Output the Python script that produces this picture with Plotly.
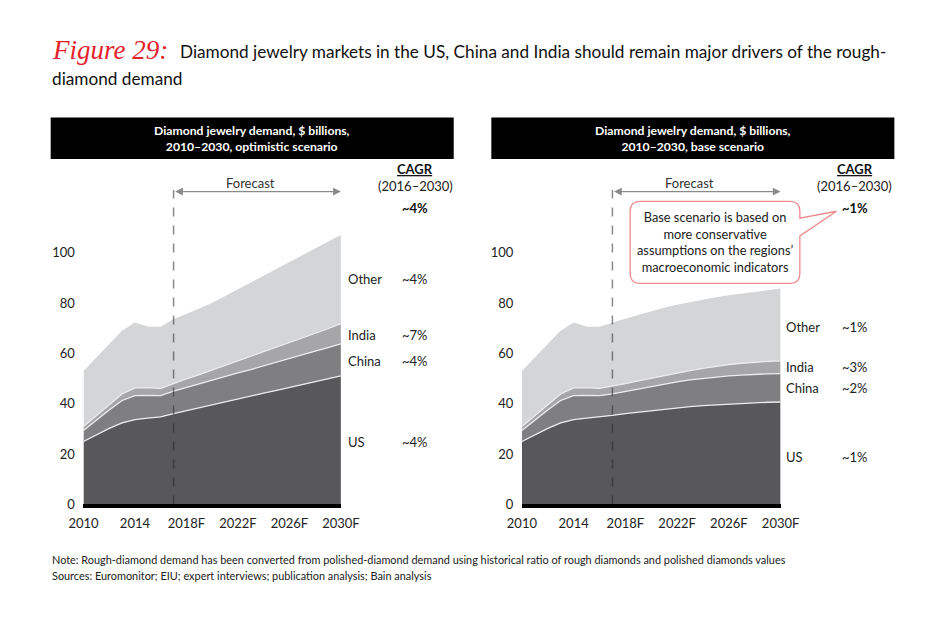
import plotly.graph_objects as go

# ---------------- data ----------------
years = list(range(2010, 2031))
tick_vals = [2010, 2014, 2018, 2022, 2026, 2030]
tick_text = ["2010", "2014", "2018F", "2022F", "2026F", "2030F"]
forecast_start = 2017

# history 2010-2016 (shared by both scenarios), $ billions
hist_us = [25.0, 27.6, 30.2, 32.4, 33.7, 34.3, 34.8]
hist_china = [4.4, 5.9, 7.3, 8.9, 9.5, 9.0, 8.4]
hist_india = [1.6, 1.8, 2.1, 2.6, 3.1, 3.1, 2.9]
hist_other = [21.6, 22.7, 23.9, 24.8, 25.7, 24.0, 24.2]

# optimistic scenario forecast 2017-2030
opt_us = [36.1, 37.3, 38.4, 39.6, 40.7, 41.9, 43.0, 44.2, 45.3, 46.5, 47.6, 48.8, 49.9, 51.1]
opt_china = [8.9, 9.2, 9.5, 9.8, 10.1, 10.4, 10.6, 10.9, 11.2, 11.5, 11.8, 12.1, 12.4, 12.7]
opt_india = [3.1, 3.4, 3.7, 4.0, 4.4, 4.7, 5.1, 5.5, 5.9, 6.3, 6.7, 7.1, 7.5, 8.0]
opt_other = [25.2, 25.5, 25.9, 26.4, 27.3, 28.2, 29.3, 30.2, 31.1, 31.9, 32.7, 33.4, 34.3, 35.0]

# base scenario forecast 2017-2030
base_us = [35.4, 36.1, 36.7, 37.3, 37.9, 38.4, 38.9, 39.3, 39.6, 39.9, 40.2, 40.4, 40.6, 40.7]
base_china = [8.5, 8.8, 9.2, 9.6, 9.9, 10.3, 10.6, 10.8, 11.1, 11.2, 11.2, 11.3, 11.3, 11.3]
base_india = [3.0, 3.1, 3.2, 3.3, 3.5, 3.6, 3.7, 4.0, 4.3, 4.5, 4.7, 4.8, 4.9, 5.0]
base_other = [25.1, 25.5, 25.9, 26.3, 26.6, 26.8, 27.0, 27.1, 27.1, 27.3, 27.5, 27.8, 28.1, 28.5]

regions = ["US", "China", "India", "Other"]
opt_cagr = ["~4%", "~4%", "~7%", "~4%"]
base_cagr = ["~1%", "~2%", "~3%", "~1%"]
opt_total_cagr = "~4%"
base_total_cagr = "~1%"

# ---------------- styling ----------------
FONT = "Lato"
W, H = 950, 625
fills = {"US": "#58585a", "China": "#7f7f81", "India": "#a6a6a8", "Other": "#d4d5d7"}
edge = "#ececec"


def px(x):
    return x / W


def py(y):
    return 1 - y / H


fig = go.Figure()

scen = [
    ("x", "y", [hist_us + opt_us, hist_china + opt_china, hist_india + opt_india, hist_other + opt_other]),
    ("x2", "y2", [hist_us + base_us, hist_china + base_china, hist_india + base_india, hist_other + base_other]),
]
for xa, ya, series in scen:
    for name, vals in zip(regions, series):
        fig.add_trace(go.Scatter(
            x=years, y=vals, xaxis=xa, yaxis=ya, name=name,
            stackgroup=xa, mode="lines",
            line=dict(color=edge if name != "Other" else fills[name], width=1.3),
            fillcolor=fills[name], hoverinfo="skip", showlegend=False,
        ))

y0_px = 511.0
scale = 2.55
ytop = 125
top_px = y0_px - ytop * scale

axis_common = dict(
    range=[2010, 2030], tickvals=tick_vals, ticktext=tick_text,
    showgrid=False, zeroline=False, showline=True, linecolor="black", linewidth=4,
    ticks="outside", ticklen=4, tickcolor="rgba(0,0,0,0)",
    tickfont=dict(family=FONT, size=13, color="#222"), fixedrange=True,
)
yaxis_common = dict(
    range=[0, ytop], tickvals=[0, 20, 40, 60, 80, 100],
    showgrid=False, zeroline=False, showline=False,
    ticks="outside", ticklen=5, tickcolor="rgba(0,0,0,0)",
    tickfont=dict(family=FONT, size=13, color="#222"), fixedrange=True,
)
ydom = [py(y0_px), py(top_px)]
fig.update_layout(
    width=W, height=H, margin=dict(l=0, r=0, t=0, b=0),
    paper_bgcolor="white", plot_bgcolor="white", showlegend=False,
    xaxis=dict(domain=[px(71), px(338)], anchor="y", **axis_common),
    yaxis=dict(domain=ydom, anchor="x", **yaxis_common),
    xaxis2=dict(domain=[px(525.7), px(794)], anchor="y2", **axis_common),
    yaxis2=dict(domain=ydom, anchor="x2", **yaxis_common),
)

shapes = []
annotations = []

# title
annotations.append(dict(
    xref="paper", yref="paper", x=px(36), y=py(51), xanchor="left", yanchor="middle",
    text="<i>Figure 29:</i>", showarrow=False,
    font=dict(family="Liberation Serif", size=27, color="#e4232d")))
annotations.append(dict(
    xref="paper", yref="paper", x=px(169), y=py(52), xanchor="left", yanchor="middle",
    text="Diamond jewelry markets in the US, China and India should remain major drivers of the rough-",
    showarrow=False, font=dict(family=FONT, size=17.2, color="#111")))
annotations.append(dict(
    xref="paper", yref="paper", x=px(36), y=py(80), xanchor="left", yanchor="middle",
    text="diamond demand", showarrow=False, font=dict(family=FONT, size=17.2, color="#111")))

panels = [
    dict(xa="x", ya="y", box=(37, 455), head="Diamond jewelry demand, $ billions,<br>2010\u20132030, optimistic scenario",
         lab_x=343, cagr_x=415, total=opt_total_cagr, cagrs=opt_cagr,
         lab_y={"Other": 283, "India": 339, "China": 366, "US": 448}, fc_x=244),
    dict(xa="x2", ya="y2", box=(494, 912), head="Diamond jewelry demand, $ billions,<br>2010\u20132030, base scenario",
         lab_x=798, cagr_x=871, total=base_total_cagr, cagrs=base_cagr,
         lab_y={"Other": 331, "India": 372, "China": 393, "US": 463}, fc_x=700),
]

for p in panels:
    # header box
    shapes.append(dict(type="rect", xref="paper", yref="paper",
                       x0=px(p["box"][0]), x1=px(p["box"][1]), y0=py(161), y1=py(119),
                       fillcolor="black", line=dict(width=0), layer="above"))
    annotations.append(dict(xref="paper", yref="paper", x=px((p["box"][0] + p["box"][1]) / 2), y=py(140),
                            xanchor="center", yanchor="middle", text="<b>" + p["head"] + "</b>",
                            showarrow=False, font=dict(family=FONT, size=12.2, color="white")))
    # CAGR header
    annotations.append(dict(xref="paper", yref="paper", x=px(p["cagr_x"]), y=py(171), xanchor="center",
                            yanchor="middle", text="<b>CAGR</b>", showarrow=False,
                            font=dict(family=FONT, size=13, color="#111", lineposition="under")))
    annotations.append(dict(xref="paper", yref="paper", x=px(p["cagr_x"]), y=py(188), xanchor="center",
                            yanchor="middle", text="(2016\u20132030)", showarrow=False,
                            font=dict(family=FONT, size=13, color="#222")))
    annotations.append(dict(xref="paper", yref="paper", x=px(p["cagr_x"]), y=py(211), xanchor="center",
                            yanchor="middle", text="<b>" + p["total"] + "</b>", showarrow=False,
                            font=dict(family=FONT, size=13, color="#111")))
    # region labels
    for name, c in zip(regions, p["cagrs"]):
        yy = p["lab_y"][name]
        annotations.append(dict(xref="paper", yref="paper", x=px(p["lab_x"]), y=py(yy), xanchor="left",
                                yanchor="middle", text=name, showarrow=False,
                                font=dict(family=FONT, size=13, color="#222")))
        annotations.append(dict(xref="paper", yref="paper", x=px(p["cagr_x"]), y=py(yy), xanchor="center",
                                yanchor="middle", text=c, showarrow=False,
                                font=dict(family=FONT, size=13, color="#222")))
    # forecast dashed line
    shapes.append(dict(type="line", xref=p["xa"], yref=p["ya"], x0=forecast_start, x1=forecast_start,
                       y0=0, y1=ytop, line=dict(color="rgba(40,40,40,0.55)", width=1.5, dash="dash"),
                       layer="above"))
    # forecast arrow
    annotations.append(dict(xref=p["xa"], yref=p["ya"], axref=p["xa"], ayref=p["ya"],
                            x=2030, y=ytop - 0.7, ax=forecast_start, ay=ytop - 0.7,
                            showarrow=True, arrowhead=2, startarrowhead=2, arrowside="end+start",
                            arrowsize=1.2, arrowwidth=1.3, arrowcolor="#8a8a8a", text=""))
    annotations.append(dict(xref="paper", yref="paper", x=px(p["fc_x"]), y=py(185), xanchor="center",
                            yanchor="middle", text="Forecast", showarrow=False,
                            font=dict(family=FONT, size=13, color="#333")))

# callout (base scenario)
L, R, T, B, r = 638, 814, 204, 287, 10
pa, pb, tipx, tipy = 221, 239, 852, 214


def pt(x, y):
    return f"{px(x):.5f},{py(y):.5f}"


path = (f"M {pt(L + r, T)} L {pt(R - r, T)} Q {pt(R, T)} {pt(R, T + r)} "
        f"L {pt(R, pa)} L {pt(tipx, tipy)} L {pt(R, pb)} "
        f"L {pt(R, B - r)} Q {pt(R, B)} {pt(R - r, B)} L {pt(L + r, B)} Q {pt(L, B)} {pt(L, B - r)} "
        f"L {pt(L, T + r)} Q {pt(L, T)} {pt(L + r, T)} Z")
shapes.append(dict(type="path", xref="paper", yref="paper", path=path, fillcolor="white",
                   line=dict(color="#ef8a8c", width=1.3), layer="above"))
annotations.append(dict(xref="paper", yref="paper", x=px(726), y=py(245.5), xanchor="center", yanchor="middle",
                        text="Base scenario is based on<br>more conservative<br>assumptions on the regions\u2019<br>macroeconomic indicators",
                        showarrow=False, align="center",
                        font=dict(family=FONT, size=12.8, color="#222")))

# footnotes
annotations.append(dict(xref="paper", yref="paper", x=px(36), y=py(567), xanchor="left", yanchor="middle",
                        text="Note: Rough-diamond demand has been converted from polished-diamond demand using historical ratio of rough diamonds and polished diamonds values",
                        showarrow=False, font=dict(family=FONT, size=10.9, color="#222")))
annotations.append(dict(xref="paper", yref="paper", x=px(36), y=py(583), xanchor="left", yanchor="middle",
                        text="Sources: Euromonitor; EIU; expert interviews; publication analysis; Bain analysis",
                        showarrow=False, font=dict(family=FONT, size=10.9, color="#222")))

fig.update_layout(shapes=shapes, annotations=annotations)
fig.write_html(
    "out.html",
    config={"displayModeBar": False, "staticPlot": True},
    post_script="document.body.style.margin='0';document.body.style.padding='0';"
                "document.documentElement.style.overflow='hidden';document.body.style.overflow='hidden';",
)
